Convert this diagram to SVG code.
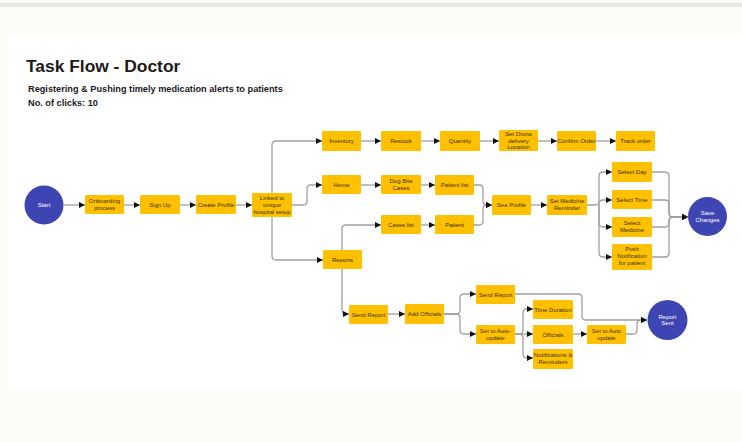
<svg xmlns="http://www.w3.org/2000/svg" width="742" height="442" viewBox="0 0 742 442">
<defs>
<style>
.n rect{fill:#FFC000;}
.n text{font-family:"Liberation Sans",Arial,sans-serif;font-size:6px;fill:#3a3000;text-anchor:middle;}
.c circle{fill:#3D45B2;}
.c text{font-family:"Liberation Sans",Arial,sans-serif;font-size:6px;fill:#ffffff;text-anchor:middle;}
.e path{fill:none;stroke:#a0a0a0;stroke-width:1.3;marker-end:url(#arr);}
.t{font-family:"Liberation Sans",Arial,sans-serif;fill:#1a1a1a;}
</style>
<marker id="arr" viewBox="0 0 10 10" refX="10" refY="5" markerWidth="6" markerHeight="6" orient="auto" markerUnits="userSpaceOnUse">
<path d="M0,0L10,5L0,10z" fill="#111"/>
</marker>
</defs>
<rect x="0" y="0" width="742" height="442" fill="#fcfcf9"/>
<rect x="0" y="3" width="742" height="4" fill="#e6e6e6"/>
<rect x="8" y="37" width="734" height="352" fill="#ffffff"/>

<text class="t" x="26" y="72" font-size="17.4" font-weight="bold">Task Flow - Doctor</text>
<text class="t" x="28" y="92" font-size="9.2" font-weight="bold">Registering &amp; Pushing timely medication alerts to patients</text>
<text class="t" x="28" y="106" font-size="9.2" font-weight="bold">No. of clicks: 10</text>

<g id="connectors" class="e">
<path d="M64,205 H85"/>
<path d="M124,205 H140"/>
<path d="M180,205 H196"/>
<path d="M236,205 H252"/>
<path d="M272,193 V145 Q272,141 276,141 H322"/>
<path d="M272,217 V256 Q272,260 276,260 H323"/>
<path d="M292,205 H303 Q307,205 307,201 V189 Q307,185 311,185 H322"/>
<path d="M361,141 H381"/>
<path d="M421,141 H440"/>
<path d="M480,141 H499"/>
<path d="M538,141 H557"/>
<path d="M596,141 H616"/>
<path d="M361,185 H381"/>
<path d="M421,185 H435"/>
<path d="M342,250 V229 Q342,225 346,225 H381"/>
<path d="M421,225 H435"/>
<path d="M474,185 H479 Q483,185 483,189 V201 Q483,205 487,205 H492"/>
<path d="M474,225 H479 Q483,225 483,221 V209 Q483,205 487,205 H492"/>
<path d="M531,205 H547"/>
<path d="M587,205 H595 Q599,205 599,201 V176 Q599,172 603,172 H612"/>
<path d="M599,205 V204 Q599,200 603,200 H612"/>
<path d="M599,205 V223 Q599,227 603,227 H612"/>
<path d="M599,205 V253 Q599,257 603,257 H612"/>
<path d="M652,172 H665 Q669,172 669,176 V213 Q669,217 673,217 H688"/>
<path d="M652,200 H665 Q669,200 669,204 V213 Q669,217 673,217 H688"/>
<path d="M652,227 H665 Q669,227 669,223 V221 Q669,217 673,217 H688"/>
<path d="M652,257 H665 Q669,257 669,253 V221 Q669,217 673,217 H688"/>
<path d="M342,269 V310 Q342,314 346,314 H349"/>
<path d="M388,314 H405"/>
<path d="M444,314 H456 Q460,314 460,310 V298 Q460,294 464,294 H476"/>
<path d="M444,314 H456 Q460,314 460,318 V330 Q460,334 464,334 H476"/>
<path d="M515,334 H519 Q523,334 523,330 V313 Q523,309 527,309 H533"/>
<path d="M515,334 H533"/>
<path d="M519,334 Q523,334 523,338 V354 Q523,358 527,358 H533"/>
<path d="M573,334 H587"/>
<path d="M626,334 H633 Q637,334 637,330 V324 Q637,320 641,320 H647"/>
<path d="M515,294 H578 Q582,294 582,298 V316 Q582,320 586,320 H647"/>
</g>

<g id="start" class="c"><circle cx="44" cy="205" r="19.5"/><text x="44" y="207">Start</text></g>
<g id="onboarding" class="n"><rect x="85" y="195" width="39" height="19" rx="1"/><text x="104.5" y="203">Onboarding</text><text x="104.5" y="210">process</text></g>
<g id="signup" class="n"><rect x="140" y="195" width="40" height="19" rx="1"/><text x="160" y="207">Sign Up</text></g>
<g id="createprofile" class="n"><rect x="196" y="195" width="40" height="19" rx="1"/><text x="216" y="207">Create Profile</text></g>
<g id="linked" class="n"><rect x="252" y="193" width="40" height="24" rx="1"/><text x="272" y="200">Linked to</text><text x="272" y="207">unique</text><text x="272" y="214">hospital setup</text></g>

<g id="inventory" class="n"><rect x="322" y="131" width="39" height="20" rx="1"/><text x="341.5" y="143">Inventory</text></g>
<g id="restock" class="n"><rect x="381" y="131" width="40" height="20" rx="1"/><text x="401" y="143">Restock</text></g>
<g id="quantity" class="n"><rect x="440" y="131" width="40" height="20" rx="1"/><text x="460" y="143">Quantity</text></g>
<g id="setdrone" class="n"><rect x="499" y="130" width="39" height="21" rx="1"/><text x="518.5" y="136">Set Drone</text><text x="518.5" y="142.5">delivery</text><text x="518.5" y="149">Location</text></g>
<g id="confirmorder" class="n"><rect x="557" y="131" width="39" height="20" rx="1"/><text x="576.5" y="143">Confirm Order</text></g>
<g id="trackorder" class="n"><rect x="616" y="131" width="39" height="20" rx="1"/><text x="635.5" y="143">Track order</text></g>

<g id="home" class="n"><rect x="322" y="175" width="39" height="19" rx="1"/><text x="341.5" y="187">Home</text></g>
<g id="dogbite" class="n"><rect x="381" y="175" width="40" height="19" rx="1"/><text x="401" y="183">Dog Bite</text><text x="401" y="190">Cases</text></g>
<g id="patientlist" class="n"><rect x="435" y="175" width="39" height="20" rx="1"/><text x="454.5" y="187">Patient list</text></g>
<g id="caseslist" class="n"><rect x="381" y="215" width="40" height="19" rx="1"/><text x="401" y="227">Cases list</text></g>
<g id="patient" class="n"><rect x="435" y="215" width="39" height="19" rx="1"/><text x="454.5" y="227">Patient</text></g>
<g id="seeprofile" class="n"><rect x="492" y="195" width="39" height="20" rx="1"/><text x="511.5" y="207">See Profile</text></g>
<g id="setmedicine" class="n"><rect x="547" y="195" width="40" height="20" rx="1"/><text x="567" y="203">Set Medicine</text><text x="567" y="210">Reminder</text></g>
<g id="selectday" class="n"><rect x="612" y="162" width="40" height="20" rx="1"/><text x="632" y="174">Select Day</text></g>
<g id="selecttime" class="n"><rect x="612" y="190" width="40" height="19" rx="1"/><text x="632" y="202">Select Time</text></g>
<g id="selectmedicine" class="n"><rect x="612" y="217" width="40" height="20" rx="1"/><text x="632" y="225">Select</text><text x="632" y="232">Medicine</text></g>
<g id="push" class="n"><rect x="612" y="244" width="40" height="26" rx="1"/><text x="632" y="251">Push</text><text x="632" y="258">Notification</text><text x="632" y="265">for patient</text></g>
<g id="savechanges" class="c"><circle cx="707.5" cy="216.5" r="19.5"/><text x="707.5" y="215">Save</text><text x="707.5" y="221.5">Changes</text></g>

<g id="reports" class="n"><rect x="323" y="250" width="39" height="19" rx="1"/><text x="342.5" y="262">Reports</text></g>
<g id="sendreport" class="n"><rect x="349" y="305" width="39" height="19" rx="1"/><text x="368.5" y="316.5">Send Report</text></g>
<g id="addofficials" class="n"><rect x="405" y="304" width="39" height="20" rx="1"/><text x="424.5" y="316">Add Officials</text></g>
<g id="sendreport2" class="n"><rect x="476" y="285" width="39" height="19" rx="1"/><text x="495.5" y="297">Send Report</text></g>
<g id="autoupdate1" class="n"><rect x="476" y="325" width="39" height="19" rx="1"/><text x="495.5" y="333">Set to Auto-</text><text x="495.5" y="340">update</text></g>
<g id="timeduration" class="n"><rect x="533" y="300" width="40" height="19" rx="1"/><text x="553" y="312">Time Duration</text></g>
<g id="officials" class="n"><rect x="533" y="325" width="40" height="19" rx="1"/><text x="553" y="337">Officials</text></g>
<g id="notifications" class="n"><rect x="533" y="349" width="40" height="20" rx="1"/><text x="553" y="357">Notifications &amp;</text><text x="553" y="364">Reminders</text></g>
<g id="autoupdate2" class="n"><rect x="587" y="325" width="39" height="19" rx="1"/><text x="606.5" y="333">Set to Auto</text><text x="606.5" y="340">update</text></g>
<g id="reportsent" class="c"><circle cx="667.5" cy="320" r="20"/><text x="667.5" y="318.5">Report</text><text x="667.5" y="325">Sent</text></g>
</svg>
